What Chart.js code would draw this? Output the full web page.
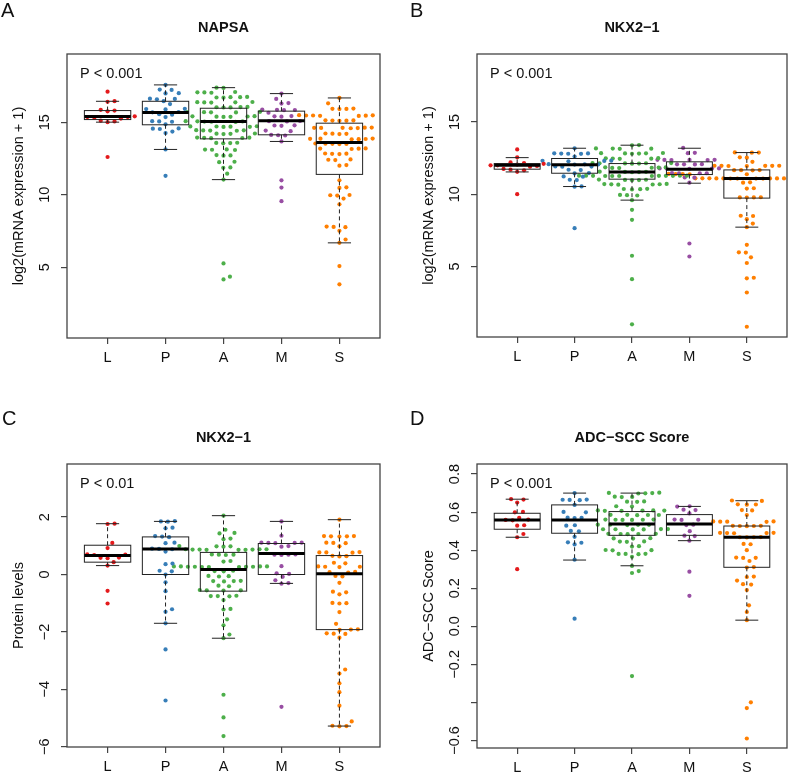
<!DOCTYPE html>
<html>
<head>
<meta charset="utf-8">
<script src="https://cdn.jsdelivr.net/npm/chart.js@4.4.1/dist/chart.umd.min.js"></script>
<style>
  body { margin: 0; background: #fff; }
  #wrap { position: relative; width: 791px; height: 774px; background: #fff; }
  canvas { position: absolute; }
</style>
</head>
<body>
<div id="wrap">
  <canvas id="panelA" width="395" height="387" style="left:0;top:0"></canvas>
  <canvas id="panelB" width="396" height="387" style="left:395px;top:0"></canvas>
  <canvas id="panelC" width="395" height="364" style="left:0;top:410px"></canvas>
  <canvas id="panelD" width="396" height="364" style="left:395px;top:410px"></canvas>
</div>
<script>
const groups = ['L', 'P', 'A', 'M', 'S'];
const groupColors = ['#E41A1C', '#377EB8', '#4DAF4A', '#984EA3', '#FF7F00'];

// ---- A: NAPSA mRNA ----
const napsaL = [17.1, 16.45, 16.4, 15.85, 15.8, 15.75, 15.4, 15.35, 15.35, 15.3, 15.25, 15.1, 15.05, 15.0, 12.6];
const napsaP = [17.57, 17.25, 17.22, 17.0, 16.98, 16.62, 16.6, 16.58, 16.45, 16.25, 15.92, 15.9, 15.88, 15.7, 15.68,
  15.55, 15.52, 15.35, 15.07, 15.05, 15.03, 14.85, 14.57, 14.55, 14.53, 14.35, 14.25, 13.12, 11.3];
const napsaA = [17.38, 17.36, 17.08, 17.06, 17.05, 17.03, 16.74, 16.72, 16.7, 16.72, 16.69,
  16.39, 16.37, 16.35, 16.38, 16.36, 16.05, 16.03, 16.01, 16.04, 16.02, 15.71, 15.69, 15.67, 15.7, 15.68,
  15.41, 15.39, 15.37, 15.4, 15.38, 15.36, 15.07, 15.05, 15.03, 15.06, 15.04, 15.02,
  14.72, 14.7, 14.68, 14.71, 14.69, 14.67, 14.45, 14.43, 14.41, 14.44, 14.42, 14.22, 14.2, 14.18, 14.21,
  13.94, 13.92, 13.9, 13.93, 13.91, 13.58, 13.56, 13.54, 13.57, 13.12, 13.1, 13.08, 13.11,
  12.73, 12.71, 12.69, 12.27, 12.24, 11.88, 11.85, 11.45, 11.04, 5.26, 4.35, 4.16];
const napsaM = [16.97, 16.6, 16.32, 16.28, 15.87, 15.85, 15.83, 15.84, 15.65, 15.42, 15.4, 15.38, 15.08, 15.07,
  15.05, 14.78, 14.77, 14.75, 14.42, 14.38, 14.12, 14.1, 14.08, 13.67, 10.99, 10.49, 9.55];
const napsaS = [16.67, 16.3, 15.94, 15.92, 15.9, 15.91, 15.48, 15.46, 15.44, 15.47, 15.45, 15.43, 15.46,
  15.13, 15.11, 15.09, 15.12, 15.1, 14.63, 14.61, 14.59, 14.62, 14.6, 14.58, 14.61, 14.22, 14.2, 14.18, 14.21,
  13.87, 13.85, 13.83, 13.86, 13.84, 13.82, 13.53, 13.51, 13.49, 13.52, 13.5, 13.19, 13.17, 13.15, 13.18,
  12.84, 12.82, 12.8, 12.83, 12.43, 12.41, 12.39, 12.04, 12.0, 10.99, 10.51, 10.47, 9.98, 9.96, 9.94,
  9.73, 9.34, 7.8, 7.78, 7.76, 7.51, 6.91, 6.68, 5.08, 3.82];
const napsaLow = [15.0, 13.12, 11.04, 13.67, 6.68];
const napsaQ1 = [15.18, 14.82, 13.85, 14.13, 11.4];
const napsaMed = [15.39, 15.66, 15.05, 15.09, 13.6];
const napsaQ3 = [15.8, 16.44, 15.96, 15.76, 14.93];
const napsaHigh = [16.44, 17.57, 17.38, 16.97, 16.67];

// ---- B: NKX2-1 mRNA ----
const nkxL = [13.1, 12.55, 12.2, 12.15, 12.1, 12.05, 12.0, 12.0, 11.95, 11.9, 11.75, 11.7, 11.65, 11.55, 10.0];
const nkxP = [13.18, 12.83, 12.81, 12.8, 12.82, 12.79, 12.6, 12.32, 12.3, 12.28, 12.31, 12.08, 12.07, 12.05, 12.06,
  11.92, 11.9, 11.91, 11.69, 11.67, 11.46, 11.44, 11.23, 11.21, 11.0, 10.98, 10.54, 10.52, 7.65];
const nkxA = [13.4, 13.38, 13.17, 13.15, 13.16, 13.14, 12.85, 12.83, 12.81, 12.84, 12.82, 12.8,
  12.49, 12.47, 12.45, 12.48, 12.46, 12.16, 12.14, 12.12, 12.15, 12.13, 12.11, 12.14,
  11.86, 11.84, 11.82, 11.85, 11.83, 11.81, 11.56, 11.54, 11.52, 11.55, 11.53,
  11.28, 11.27, 11.26, 11.28, 11.27, 11.26, 11.28, 11.27, 11.26, 11.28, 11.27, 11.26,
  11.01, 10.99, 10.97, 11.0, 10.98, 10.71, 10.69, 10.67, 10.7, 10.68, 10.66,
  10.37, 10.35, 10.33, 10.36, 9.95, 9.93, 9.91, 9.59, 8.92, 8.23, 5.74, 4.12, 1.0];
const nkxM = [13.2, 12.86, 12.84, 12.38, 12.37, 12.36, 12.38, 12.37, 12.36, 12.08, 12.07, 12.06, 12.07,
  11.78, 11.77, 11.76, 11.78, 11.77, 11.46, 11.45, 11.44, 11.45, 11.16, 11.14, 10.8, 6.59, 5.69];
const nkxS = [12.89, 12.88, 12.87, 12.55, 12.53, 12.24, 11.97, 11.96, 11.95, 11.97, 11.96, 11.95, 11.96,
  11.67, 11.66, 11.65, 11.66, 11.4, 11.39, 11.38, 11.4, 11.39, 11.38, 11.4, 11.39, 11.38, 11.39,
  11.1, 11.09, 11.08, 11.1, 11.09, 11.08, 11.1, 11.09, 11.08, 11.1, 11.09, 11.08, 11.1, 11.09,
  10.82, 10.8, 10.41, 10.39, 9.79, 9.78, 9.77, 9.78, 8.51, 8.49, 8.27, 7.97, 7.72,
  6.5, 5.98, 5.96, 5.63, 5.24, 4.22, 4.18, 3.2, 0.83];
const nkxLow = [11.54, 10.53, 9.59, 10.76, 7.72];
const nkxQ1 = [11.73, 11.45, 11.04, 11.36, 9.73];
const nkxMed = [12.0, 12.03, 11.54, 11.73, 11.09];
const nkxQ3 = [12.12, 12.47, 12.12, 12.24, 11.68];
const nkxHigh = [12.53, 13.18, 13.39, 13.18, 12.88];
const mrnaTicks = [5, 10, 15];
const mrnaTickLabels = ['5', '10', '15'];

// ---- C: NKX2-1 protein ----
const protL = [1.77, 1.76, 1.1, 0.92, 0.7, 0.69, 0.68, 0.59, 0.58, 0.57, 0.43, 0.31, -0.57, -1.01];
const protP = [1.86, 1.85, 1.84, 1.63, 1.61, 1.34, 1.32, 1.3, 1.11, 1.09, 0.9, 0.89, 0.88, 0.8, 0.38, 0.36,
  0.13, 0.11, 0.0, -0.27, -0.58, -1.21, -1.3, -1.7, -2.61, -4.39];
const protA = [2.05, 1.56, 1.45, 1.43, 1.25, 1.23, 0.99, 0.98, 0.97, 0.98,
  0.88, 0.87, 0.86, 0.88, 0.87, 0.86, 0.88, 0.87, 0.86, 0.7, 0.69, 0.68, 0.69, 0.47, 0.45,
  0.28, 0.27, 0.26, 0.28, 0.27, 0.26, 0.28, 0.27, 0.26, 0.28, 0.27, 0.13, 0.12, 0.11,
  -0.05, -0.06, -0.07, -0.22, -0.23, -0.24, -0.23, -0.39, -0.41, -0.54, -0.55, -0.56, -0.55,
  -0.74, -0.75, -0.76, -0.75, -0.89, -1.2, -1.22, -1.56, -1.77, -2.09, -2.22, -4.19, -4.98, -5.63];
const protM = [1.85, 1.35, 1.11, 1.1, 1.09, 1.1, 1.11, 0.99, 0.97, 0.7, 0.69, 0.68, 0.69, 0.29, 0.04, 0.02,
  -0.08, -0.2, -0.3, -0.32, -4.61];
const protS = [1.91, 1.34, 1.33, 1.32, 1.33, 1.34, 1.11, 1.1, 1.09, 0.98, 0.78, 0.77, 0.76, 0.77, 0.65, 0.64, 0.63,
  0.41, 0.39, 0.28, 0.27, 0.26, 0.27, 0.09, 0.08, 0.07, -0.05, -0.07, -0.29, -0.6, -0.62, -0.69,
  -0.99, -1.0, -1.01, -1.31, -1.72, -1.91, -1.92, -1.93, -2.05, -2.06, -2.07,
  -2.2, -3.31, -3.45, -3.79, -4.1, -4.57, -5.12, -5.27, -5.28, -5.29];
const protLow = [0.31, -1.7, -2.22, -0.31, -5.28];
const protQ1 = [0.43, 0.0, -0.58, 0.0, -1.92];
const protMed = [0.66, 0.89, 0.17, 0.73, 0.03];
const protQ3 = [1.02, 1.31, 0.77, 1.08, 0.66];
const protHigh = [1.77, 1.85, 2.05, 1.85, 1.91];
const protTicks = [-6, -4, -2, 0, 2];
const protTickLabels = ['\u22126', '\u22124', '\u22122', '0', '2'];

// ---- D: ADC-SCC score ----
const adcL = [0.668, 0.666, 0.65, 0.601, 0.599, 0.57, 0.561, 0.559, 0.557, 0.531, 0.529, 0.485, 0.468, 0.30];
const adcP = [0.70, 0.666, 0.665, 0.664, 0.663, 0.638, 0.601, 0.599, 0.571, 0.57, 0.569, 0.531, 0.529,
  0.501, 0.499, 0.47, 0.441, 0.439, 0.43, 0.35, 0.04];
const adcA = [0.702, 0.701, 0.70, 0.699, 0.698, 0.681, 0.68, 0.679, 0.656, 0.655, 0.654, 0.631, 0.629,
  0.609, 0.608, 0.607, 0.609, 0.608, 0.607, 0.586, 0.585, 0.584, 0.586, 0.585,
  0.561, 0.56, 0.559, 0.561, 0.56, 0.559, 0.534, 0.533, 0.532, 0.534, 0.533,
  0.511, 0.51, 0.509, 0.511, 0.51, 0.509, 0.486, 0.485, 0.484, 0.486, 0.485,
  0.463, 0.462, 0.461, 0.446, 0.445, 0.444, 0.421, 0.419, 0.401, 0.4, 0.399,
  0.381, 0.38, 0.379, 0.38, 0.365, 0.317, 0.29, 0.28, -0.262];
const adcM = [0.631, 0.629, 0.613, 0.611, 0.593, 0.561, 0.56, 0.559, 0.534, 0.532, 0.5, 0.476, 0.474, 0.45, 0.287, 0.16];
const adcS = [0.661, 0.659, 0.641, 0.64, 0.639, 0.611, 0.609, 0.585, 0.551, 0.55, 0.549, 0.551, 0.55,
  0.528, 0.527, 0.526, 0.528, 0.527, 0.491, 0.49, 0.489, 0.491, 0.49, 0.469, 0.468, 0.467, 0.468,
  0.433, 0.431, 0.40, 0.361, 0.36, 0.359, 0.343, 0.311, 0.309, 0.261, 0.259, 0.24, 0.221, 0.219,
  0.19, 0.11, 0.075, 0.032, -0.40, -0.43, -0.59];
const adcLow = [0.468, 0.348, 0.318, 0.45, 0.032];
const adcQ1 = [0.51, 0.489, 0.478, 0.478, 0.31];
const adcMed = [0.559, 0.559, 0.538, 0.538, 0.468];
const adcQ3 = [0.594, 0.638, 0.603, 0.587, 0.527];
const adcHigh = [0.668, 0.70, 0.70, 0.63, 0.66];
const adcTicks = [-0.6, -0.4, -0.2, 0, 0.2, 0.4, 0.6, 0.8];
const adcTickLabels = ['\u22120.6', '', '\u22120.2', '0.0', '0.2', '0.4', '0.6', '0.8']; // R drops the -0.4 label

const FONT = '"Liberation Sans", Arial, Helvetica, sans-serif';
const SWARM_GAP = 7.0; // px between dot centres

// simple beeswarm ("swarm" style): place each point as close to centre as it fits
function swarmOffsets(py, d) {
    const order = py.map((y, i) => i).sort((a, b) => py[b] - py[a]);
    const placed = [];
    const offs = new Array(py.length).fill(0);
    order.forEach(i => {
        const y = py[i];
        const near = placed.filter(p => Math.abs(p.y - y) < d);
        const cands = [0];
        near.forEach(p => {
            const dx = Math.sqrt(d * d - (p.y - y) ** 2);
            cands.push(p.x + dx, p.x - dx);
        });
        cands.sort((a, b) => Math.abs(a) - Math.abs(b));
        let best = 0;
        for (const c of cands) {
            if (near.every(p => (p.x - c) ** 2 + (p.y - y) ** 2 >= d * d - 0.01)) { best = c; break; }
        }
        offs[i] = best;
        placed.push({ x: best, y: y });
    });
    return offs;
}

function panelPlugin(cfg) {
    return {
        id: 'panel' + cfg.letter,
        beforeDraw(chart) {
            const ctx = chart.ctx;
            ctx.save();
            ctx.fillStyle = '#fff';
            ctx.fillRect(0, 0, chart.width, chart.height);
            ctx.restore();
        },
        afterDatasetsDraw(chart) {
            const ctx = chart.ctx, xs = chart.scales.x, ys = chart.scales.y;
            const unit = xs.getPixelForValue(1) - xs.getPixelForValue(0);
            const hw = 0.4 * unit;
            ctx.save();
            for (let g = 0; g < groups.length; g++) {
                const xc = xs.getPixelForValue(g + 1);
                const yLo = ys.getPixelForValue(cfg.low[g]);
                const yQ1 = ys.getPixelForValue(cfg.q1[g]);
                const yMed = ys.getPixelForValue(cfg.med[g]);
                const yQ3 = ys.getPixelForValue(cfg.q3[g]);
                const yHi = ys.getPixelForValue(cfg.high[g]);
                ctx.strokeStyle = '#222';
                ctx.lineWidth = 1;
                // whiskers (dashed)
                ctx.setLineDash([4, 3]);
                ctx.beginPath();
                ctx.moveTo(xc, yQ3); ctx.lineTo(xc, yHi);
                ctx.moveTo(xc, yQ1); ctx.lineTo(xc, yLo);
                ctx.stroke();
                ctx.setLineDash([]);
                // caps
                ctx.beginPath();
                ctx.moveTo(xc - hw / 2, yHi); ctx.lineTo(xc + hw / 2, yHi);
                ctx.moveTo(xc - hw / 2, yLo); ctx.lineTo(xc + hw / 2, yLo);
                ctx.stroke();
                // box
                ctx.strokeRect(xc - hw, yQ3, 2 * hw, yQ1 - yQ3);
                // median
                ctx.strokeStyle = '#000';
                ctx.lineWidth = 3;
                ctx.beginPath();
                ctx.moveTo(xc - hw, yMed); ctx.lineTo(xc + hw, yMed);
                ctx.stroke();
            }
            ctx.restore();
        },
        afterDraw(chart) {
            const ctx = chart.ctx, a = chart.chartArea, ys = chart.scales.y;
            ctx.save();
            // frame
            ctx.strokeStyle = '#444';
            ctx.lineWidth = 1.3;
            ctx.strokeRect(a.left, a.top, a.right - a.left, a.bottom - a.top);
            ctx.fillStyle = '#111';
            // rotated y tick labels
            ctx.font = '14.5px ' + FONT;
            ctx.textAlign = 'center';
            ctx.textBaseline = 'middle';
            cfg.yTicks.forEach((v, i) => {
                const label = cfg.yTickLabels[i];
                if (!label) return;
                ctx.save();
                ctx.translate(a.left - 22, ys.getPixelForValue(v));
                ctx.rotate(-Math.PI / 2);
                ctx.fillText(label, 0, 0);
                ctx.restore();
            });
            // y title
            ctx.save();
            ctx.translate(a.left - 48, (a.top + a.bottom) / 2);
            ctx.rotate(-Math.PI / 2);
            ctx.fillText(cfg.yTitle, 0, 0);
            ctx.restore();
            // main title
            ctx.font = 'bold 14.5px ' + FONT;
            ctx.fillText(cfg.title, (a.left + a.right) / 2, a.top - 26.5);
            // p value
            ctx.font = '14.5px ' + FONT;
            ctx.textAlign = 'left';
            ctx.textBaseline = 'alphabetic';
            ctx.fillText(cfg.pText, a.left + 13, a.top + 24);
            // panel letter
            ctx.font = '20px ' + FONT;
            ctx.fillText(cfg.letter, cfg.letterX, cfg.letterY);
            ctx.restore();
        }
    };
}

function makePanel(canvasId, cfg) {
    const datasets = cfg.series.map((vals, g) => ({
        data: vals.map(v => ({ x: g + 1, y: v })),
        pointRadius: 2.1,
        pointBorderWidth: 0,
        pointBackgroundColor: groupColors[g],
        pointBorderColor: groupColors[g],
        showLine: false
    }));
    const tickGrid = { drawOnChartArea: false, drawTicks: true, tickLength: 6, color: '#444', lineWidth: 1.2 };
    const chart = new Chart(document.getElementById(canvasId), {
        type: 'scatter',
        data: { datasets: datasets },
        options: {
            responsive: false,
            animation: false,
            events: [],
            layout: { padding: { top: cfg.top, right: cfg.right, left: 0, bottom: 0 } },
            plugins: { legend: { display: false }, tooltip: { enabled: false }, title: { display: false } },
            scales: {
                x: {
                    type: 'linear', min: 0.3, max: 5.7,
                    afterBuildTicks: s => { s.ticks = groups.map((g, i) => ({ value: i + 1 })); },
                    afterFit: s => { s.height = cfg.bottomH; },
                    grid: tickGrid,
                    border: { display: false },
                    ticks: {
                        callback: v => groups[Math.round(v) - 1],
                        font: { family: FONT, size: 14.5 },
                        color: '#111', padding: 5, maxRotation: 0, autoSkip: false
                    }
                },
                y: {
                    type: 'linear', min: cfg.yMin, max: cfg.yMax,
                    afterBuildTicks: s => { s.ticks = cfg.yTicks.map(v => ({ value: v })); },
                    afterFit: s => { s.width = cfg.left; },
                    grid: tickGrid,
                    border: { display: false },
                    ticks: { display: false }
                }
            }
        },
        plugins: [panelPlugin(cfg)]
    });

    // spread the points sideways like R's beeswarm
    const xs = chart.scales.x, ys = chart.scales.y;
    const unit = xs.getPixelForValue(1) - xs.getPixelForValue(0);
    cfg.series.forEach((vals, g) => {
        const py = vals.map(v => ys.getPixelForValue(v));
        const offs = swarmOffsets(py, SWARM_GAP);
        chart.data.datasets[g].data = vals.map((v, i) => ({ x: g + 1 + offs[i] / unit, y: v }));
    });
    chart.update('none');
    return chart;
}

makePanel('panelA', {
    letter: 'A', letterX: 1, letterY: 17, title: 'NAPSA', pText: 'P < 0.001',
    yTitle: 'log2(mRNA expression + 1)',
    series: [napsaL, napsaP, napsaA, napsaM, napsaS],
    low: napsaLow, q1: napsaQ1, med: napsaMed, q3: napsaQ3, high: napsaHigh,
    yMin: 0.12, yMax: 19.7, yTicks: mrnaTicks, yTickLabels: mrnaTickLabels,
    left: 67, top: 54, right: 15, bottomH: 49
});
makePanel('panelB', {
    letter: 'B', letterX: 15, letterY: 17, title: 'NKX2\u22121', pText: 'P < 0.001',
    yTitle: 'log2(mRNA expression + 1)',
    series: [nkxL, nkxP, nkxA, nkxM, nkxS],
    low: nkxLow, q1: nkxQ1, med: nkxMed, q3: nkxQ3, high: nkxHigh,
    yMin: 0.12, yMax: 19.7, yTicks: mrnaTicks, yTickLabels: mrnaTickLabels,
    left: 82, top: 54, right: 2, bottomH: 50
});
makePanel('panelC', {
    letter: 'C', letterX: 2, letterY: 15, title: 'NKX2\u22121', pText: 'P < 0.01',
    yTitle: 'Protein levels',
    series: [protL, protP, protA, protM, protS],
    low: protLow, q1: protQ1, med: protMed, q3: protQ3, high: protHigh,
    yMin: -6.01, yMax: 3.85, yTicks: protTicks, yTickLabels: protTickLabels,
    left: 67, top: 54, right: 15, bottomH: 27
});
makePanel('panelD', {
    letter: 'D', letterX: 15, letterY: 15, title: 'ADC\u2212SCC Score', pText: 'P < 0.001',
    yTitle: 'ADC\u2212SCC Score',
    series: [adcL, adcP, adcA, adcM, adcS],
    low: adcLow, q1: adcQ1, med: adcMed, q3: adcQ3, high: adcHigh,
    yMin: -0.64, yMax: 0.853, yTicks: adcTicks, yTickLabels: adcTickLabels,
    left: 82, top: 54, right: 2, bottomH: 26
});
</script>
</body>
</html>
